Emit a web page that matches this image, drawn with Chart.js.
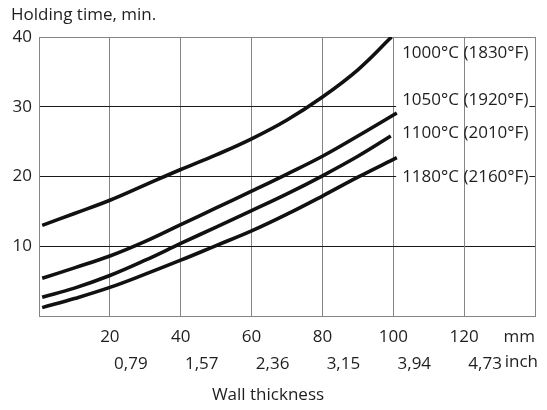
<!DOCTYPE html>
<html>
<head>
<meta charset="utf-8">
<script src="https://cdn.jsdelivr.net/npm/chart.js@4/dist/chart.umd.min.js"></script>
<style>
  html, body { margin: 0; padding: 0; background: #ffffff; }
  canvas { display: block; }
</style>
</head>
<body>
<canvas id="c" width="547" height="410"></canvas>
<script>
// ---- data ----
const seriesNames = ['1000°C (1830°F)', '1050°C (1920°F)', '1100°C (2010°F)', '1180°C (2160°F)'];
const wall1000 = [0.9, 10, 20, 30, 40, 50, 60, 70, 80, 90, 99.5];
const time1000 = [13.0, 14.7, 16.6, 18.8, 21.0, 23.1, 25.4, 28.1, 31.4, 35.3, 40.0];
const wall1050 = [0.9, 10, 20, 30, 40, 50, 60, 70, 80, 90, 101];
const time1050 = [5.4, 6.9, 8.6, 10.7, 13.1, 15.5, 17.9, 20.35, 22.9, 25.8, 29.1];
const wall1100 = [0.9, 10, 20, 30, 40, 50, 60, 70, 80, 90, 99.3];
const time1100 = [2.7, 4.0, 5.8, 8.0, 10.4, 12.75, 15.1, 17.5, 20.1, 22.9, 25.8];
const wall1180 = [0.9, 10, 20, 30, 40, 50, 60, 70, 80, 90, 101];
const time1180 = [1.2, 2.5, 4.1, 6.0, 8.0, 10.1, 12.2, 14.6, 17.2, 19.9, 22.7];
const labelTimeAnchors = [37.7, 31.0, 26.2, 19.9];   // where each curve label sits (min)
const labelWallAnchor = 102.5;                       // mm
const mmTicks = [20, 40, 60, 80, 100, 120];
const inchTickLabels = ['0,79', '1,57', '2,36', '3,15', '3,94', '4,73'];
const timeTicks = [10, 20, 30, 40];
const yTitle = 'Holding time, min.';
const xTitle = 'Wall thickness';

const FONT = '"Open Sans", "Noto Sans", sans-serif';
const FS = 17;
const TXT = '#1e1e1e';
const GRAY = '#858585';

function mk(xs, ys) { return xs.map((x, i) => ({ x: x, y: ys[i] })); }
const series = [mk(wall1000, time1000), mk(wall1050, time1050), mk(wall1100, time1100), mk(wall1180, time1180)];

const labelsPlugin = {
  id: 'curveLabels',
  beforeDatasetsDraw(chart) {
    const ctx = chart.ctx, xs = chart.scales.x, ys = chart.scales.y;
    ctx.save();
    ctx.font = FS + 'px ' + FONT;
    ctx.textBaseline = 'middle';
    const x0 = xs.getPixelForValue(labelWallAnchor);
    seriesNames.forEach((name, i) => {
      const y = ys.getPixelForValue(labelTimeAnchors[i]);
      const w = ctx.measureText(name).width;
      ctx.fillStyle = '#ffffff';
      ctx.fillRect(x0 - 6, y - 9, w + 7, 18);
    });
    // vertical grid line at 120 mm runs through the labels
    const gx = Math.round(xs.getPixelForValue(120)) + 0.5;
    ctx.strokeStyle = GRAY; ctx.lineWidth = 1;
    ctx.beginPath(); ctx.moveTo(gx, chart.chartArea.top); ctx.lineTo(gx, chart.chartArea.bottom); ctx.stroke();
    ctx.fillStyle = TXT;
    ctx.textAlign = 'left';
    seriesNames.forEach((name, i) => {
      ctx.fillText(name, x0, ys.getPixelForValue(labelTimeAnchors[i]));
    });
    ctx.restore();
  },
  afterDraw(chart) {
    const ctx = chart.ctx, a = chart.chartArea;
    ctx.save();
    ctx.font = FS + 'px ' + FONT;
    ctx.fillStyle = TXT;
    ctx.textBaseline = 'middle';
    ctx.textAlign = 'left';
    ctx.fillText(yTitle, 11, 15);
    ctx.textAlign = 'right';
    ctx.fillText('mm', a.right, 337);
    ctx.fillText('inch', a.right + 3, 362);
    ctx.textAlign = 'center';
    ctx.fillText(xTitle, 268, 395);
    ctx.restore();
  }
};

new Chart(document.getElementById('c'), {
  type: 'line',
  data: {
    datasets: series.map((d, i) => ({
      label: seriesNames[i],
      data: d,
      borderColor: '#111111',
      borderWidth: 3.6,
      pointRadius: 0,
      fill: false,
      tension: 0.4
    }))
  },
  options: {
    responsive: false,
    animation: false,
    layout: { padding: { left: 0, right: 12, top: 37, bottom: 34 } },
    plugins: { legend: { display: false }, tooltip: { enabled: false }, title: { display: false } },
    scales: {
      x: {
        type: 'linear', position: 'bottom', min: 0, max: 140, weight: 0,
        afterFit(s) { s.height = 30; },
        grid: { color: GRAY, lineWidth: 1, drawTicks: false },
        border: { color: GRAY, width: 1 },
        ticks: {
          stepSize: 20, padding: 11, autoSkip: false, maxRotation: 0,
          color: TXT, font: { family: FONT, size: FS },
          callback: v => mmTicks.includes(v) ? String(v) : ''
        }
      },
      x2: {
        type: 'linear', position: 'bottom', min: 0, max: 140, weight: 1,
        afterFit(s) { s.height = 30; },
        grid: { display: false, drawTicks: false },
        border: { display: false },
        ticks: {
          stepSize: 20, padding: 8, autoSkip: false, maxRotation: 0, labelOffset: 21,
          color: TXT, font: { family: FONT, size: FS },
          callback: v => { const k = mmTicks.indexOf(v); return k >= 0 ? inchTickLabels[k] : ''; }
        }
      },
      y: {
        type: 'linear', min: 0, max: 40,
        afterFit(s) { s.width = 39; },
        grid: {
          drawTicks: false, lineWidth: 1,
          color: c => (timeTicks.includes(c.tick.value) && c.tick.value !== 40) ? '#1a1a1a' : GRAY
        },
        border: { color: GRAY, width: 1 },
        ticks: {
          stepSize: 10, padding: 7, color: TXT, font: { family: FONT, size: FS },
          callback: v => timeTicks.includes(v) ? String(v) : ''
        }
      }
    }
  },
  plugins: [labelsPlugin]
});
</script>
</body>
</html>
